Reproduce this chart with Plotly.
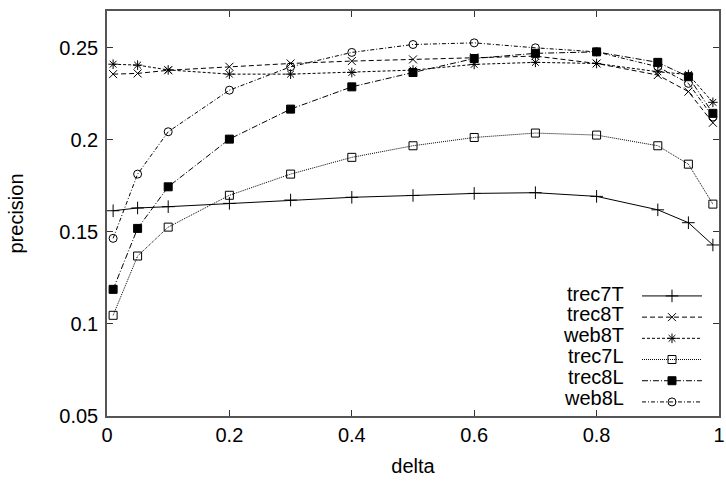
import plotly.graph_objects as go

delta = [0.01, 0.05, 0.1, 0.2, 0.3, 0.4, 0.5, 0.6, 0.7, 0.8, 0.9, 0.95, 0.99]

trec7T = [0.1615, 0.1630, 0.1637, 0.1655, 0.1673, 0.1688, 0.1698, 0.1709, 0.1713, 0.1693, 0.1620, 0.1550, 0.1429]
trec8T = [0.2357, 0.2361, 0.2378, 0.2397, 0.2415, 0.2428, 0.2437, 0.2448, 0.2455, 0.2415, 0.2352, 0.2262, 0.2093]
web8T = [0.2411, 0.2406, 0.2380, 0.2357, 0.2357, 0.2366, 0.2379, 0.2410, 0.2421, 0.2415, 0.2370, 0.2355, 0.2204]
trec7L = [0.1047, 0.1369, 0.1526, 0.1699, 0.1814, 0.1905, 0.1968, 0.2013, 0.2037, 0.2026, 0.1968, 0.1868, 0.1651]
trec8L = [0.1188, 0.1519, 0.1745, 0.2004, 0.2167, 0.2288, 0.2366, 0.2442, 0.2470, 0.2478, 0.2421, 0.2343, 0.2144]
web8L = [0.1465, 0.1814, 0.2044, 0.2270, 0.2397, 0.2475, 0.2518, 0.2527, 0.2500, 0.2478, 0.2397, 0.2307, 0.2124]

series_names = ["trec7T", "trec8T", "web8T", "trec7L", "trec8L", "web8L"]
series_values = [trec7T, trec8T, web8T, trec7L, trec8L, web8L]

x_ticks = [0, 0.2, 0.4, 0.6, 0.8, 1]
x_ticktext = ["0", "0.2", "0.4", "0.6", "0.8", "1"]
y_ticks = [0.05, 0.1, 0.15, 0.2, 0.25]
y_ticktext = ["0.05", "0.1", "0.15", "0.2", "0.25"]

styles = [
    dict(dash="solid", symbol="cross-thin", size=9),
    dict(dash="5px,3px", symbol="x-thin", size=8),
    dict(dash="3px,2px", symbol="asterisk", size=8),
    dict(dash="1px,1px", symbol="square-open", size=8),
    dict(dash="6px,2px,1px,2px", symbol="square", size=8),
    dict(dash="4px,2px,1px,2px", symbol="circle-open", size=8),
]

FONT = "Liberation Sans, Arial, sans-serif"

fig = go.Figure()
for name, vals, st in zip(series_names, series_values, styles):
    fig.add_trace(go.Scatter(
        x=delta, y=vals, mode="lines+markers", name=" ",
        line=dict(color="black", width=1, dash=st["dash"]),
        marker=dict(symbol=st["symbol"], size=st["size"], color="black",
                    line=dict(color="black", width=1)),
    ))

# legend labels (text sits left of the samples, as in the reference)
row_top = 0.3024
row_pitch = 0.0515
for i, name in enumerate(series_names):
    fig.add_annotation(
        xref="paper", yref="paper", x=0.848, y=row_top - i * row_pitch,
        xanchor="right", yanchor="middle", text=name, showarrow=False,
        font=dict(family=FONT, size=20, color="black"),
    )

axis_common = dict(
    showline=True, linecolor="#555555", linewidth=1.5, mirror="ticks",
    ticks="inside", ticklen=6, tickcolor="#333333", tickwidth=1,
    showgrid=False, zeroline=False, automargin=False,
    ticklabeloverflow="allow",
    tickfont=dict(family=FONT, size=20, color="black"),
)

fig.update_layout(
    width=726, height=481,
    margin=dict(l=107, r=7, t=11, b=65),
    paper_bgcolor="white", plot_bgcolor="white",
    font=dict(family=FONT, size=20, color="black"),
    showlegend=True,
    legend=dict(
        x=0.866, y=0.335, xanchor="left", yanchor="top",
        bgcolor="rgba(0,0,0,0)", borderwidth=0,
        font=dict(family=FONT, size=14), itemwidth=60,
        tracegroupgap=0,
    ),
    xaxis=dict(range=[0, 1], tickvals=x_ticks, ticktext=x_ticktext,
               title=dict(text="delta", font=dict(family=FONT, size=20), standoff=14),
               **axis_common),
    yaxis=dict(range=[0.05, 0.27], tickvals=y_ticks, ticktext=y_ticktext,
               ticklabelstandoff=3,
               title=dict(text="precision", font=dict(family=FONT, size=20), standoff=30),
               **axis_common),
)

fig.write_html("out.html")
